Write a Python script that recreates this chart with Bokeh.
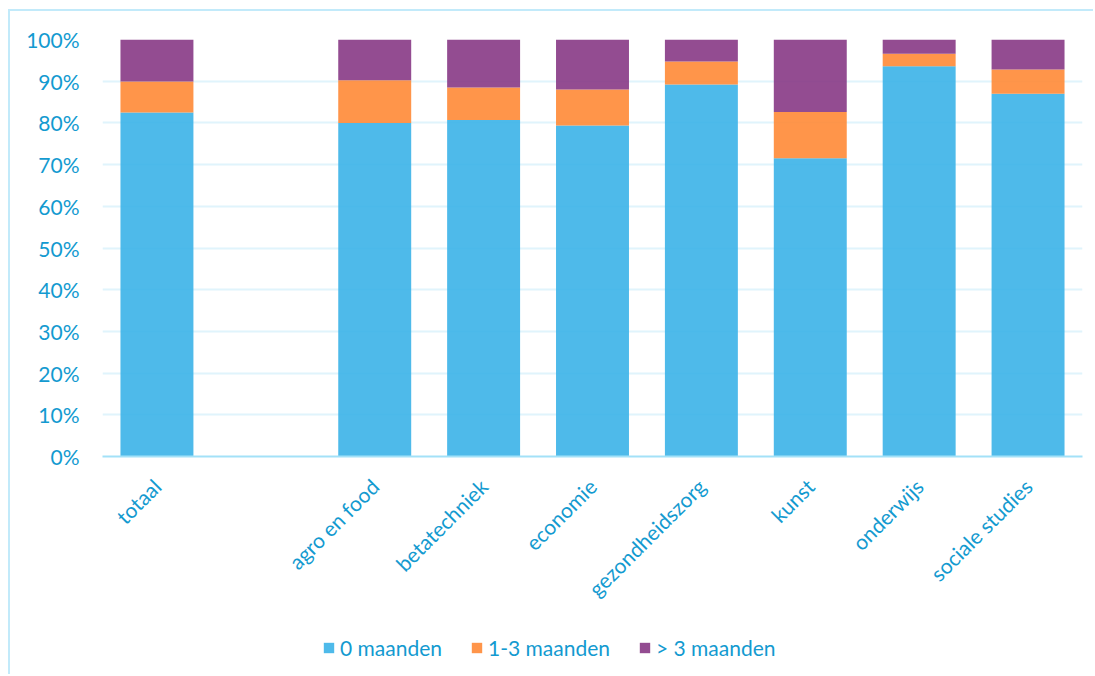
from math import pi
from bokeh.plotting import figure
from bokeh.layouts import column
from bokeh.models import FactorRange, Legend, LegendItem, PrintfTickFormatter, FixedTicker
from bokeh.embed import file_html
from bokeh.resources import INLINE

categories = ["totaal", " ", "agro en food", "betatechniek", "economie",
              "gezondheidszorg", "kunst", "onderwijs", "sociale studies"]
m0 = [82.5, 0, 80.0, 80.7, 79.4, 89.2, 71.5, 93.6, 87.0]
m13 = [7.4, 0, 10.2, 7.8, 8.6, 5.5, 11.1, 3.0, 5.8]
m3 = [10.1, 0, 9.8, 11.5, 12.0, 5.3, 17.4, 3.4, 7.2]
series = ["0 maanden", "1-3 maanden", "> 3 maanden"]
colors = ["#3bb3e8", "#ff8936", "#873985"]
yticks = list(range(0, 101, 10))

TXT = "#139ad0"
FONT = "Lato"
FS = "21px"
W = 1083
H1 = 620
H2 = 43

p = figure(x_range=FactorRange(*categories, range_padding=0), y_range=(0, 100),
           width=W, height=H1, output_backend="svg", toolbar_location=None,
           min_border_left=92, min_border_right=11, min_border_top=28, min_border_bottom=H1 - 445)
p.outline_line_color = None

data = {"cat": categories, "a": m0, "b": m13, "c": m3}
rs = p.vbar_stack(["a", "b", "c"], x="cat", width=0.67, source=data,
                  color=colors, fill_alpha=0.9, line_color=None)

p.xgrid.grid_line_color = None
p.ygrid.grid_line_color = "#e0f4fc"
p.ygrid.grid_line_width = 2
p.ygrid.level = "underlay"

ya = p.yaxis[0]
ya.ticker = FixedTicker(ticks=yticks)
ya.formatter = PrintfTickFormatter(format="%d%%")
ya.axis_line_color = None
ya.major_tick_line_color = None
ya.minor_tick_line_color = None
ya.major_label_text_color = TXT
ya.major_label_text_font = FONT
ya.major_label_text_font_size = FS
ya.major_label_standoff = 17

xa = p.xaxis[0]
xa.axis_line_color = "#a3e1f8"
xa.axis_line_width = 2
xa.major_tick_line_color = None
xa.minor_tick_line_color = None
xa.major_label_orientation = pi / 4
xa.major_label_text_color = TXT
xa.major_label_text_font = FONT
xa.major_label_text_font_size = FS
xa.major_label_standoff = 20

# legend strip
p2 = figure(x_range=(0, 1), y_range=(0, 1), width=W, height=H2,
            x_axis_type=None, y_axis_type=None,
            output_backend="svg", toolbar_location=None,
            min_border_left=0, min_border_right=0, min_border_top=0, min_border_bottom=0)
p2.grid.grid_line_color = None
p2.outline_line_color = None
dummies = [p2.vbar(x=[0.5], top=[0], bottom=[0], width=0.01, color=c, fill_alpha=0.9,
                   line_color=None)
           for c in colors]
legend = Legend(items=[LegendItem(label=s, renderers=[r]) for s, r in zip(series, dummies)],
                orientation="horizontal", location=(220, 14),
                glyph_width=13, glyph_height=13, label_standoff=5, spacing=28,
                padding=0, margin=0, border_line_color=None, background_fill_alpha=0,
                label_text_color=TXT, label_text_font=FONT, label_text_font_size=FS)
p2.add_layout(legend)

layout = column(p, p2, spacing=0,
                styles={"margin-left": "8px", "margin-top": "9px",
                        "border-left": "2px solid #c2eafa", "border-top": "2px solid #c2eafa"})

open("out.html", "w").write(file_html(layout, INLINE))
